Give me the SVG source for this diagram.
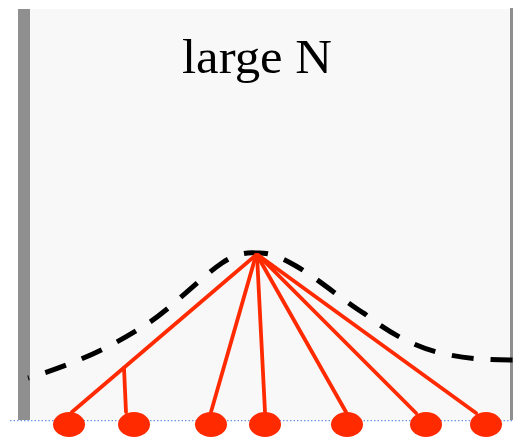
<svg xmlns="http://www.w3.org/2000/svg" width="513" height="438" viewBox="0 0 513 438">
<style>
.edge{stroke:#ff2a00;stroke-width:3.8;fill:none;stroke-linecap:round}
.node{fill:#ff2a00}
.bar{fill:#8f8f8f}
.curve{fill:none;stroke:#000;stroke-width:5;stroke-dasharray:22 17;stroke-dashoffset:10}
</style>
<rect x="0" y="0" width="513" height="438" fill="#ffffff"/>
<rect x="18" y="9" width="495" height="411" fill="#f8f8f8"/>
<rect class="bar" x="18" y="9" width="12" height="411"/>
<rect class="bar" x="510" y="8" width="3" height="412"/>
<text x="257" y="73" font-family="Liberation Serif, serif" font-size="48" text-anchor="middle" textLength="150" lengthAdjust="spacingAndGlyphs" fill="#000">large N</text>
<path class="curve" d="M256,253 C243,252 232,256 222,263 C200,278 175,305 150,322 C120,342 82,362 28,378"/>
<path class="curve" d="M256,253 C270,252 282,258 296,266 C320,280 345,302 365,314 C390,334 420,350 450,355 C470,359 490,360 513,360"/>
<line x1="10" y1="420.7" x2="513" y2="420.7" stroke="#6b95e8" stroke-width="1.3" stroke-dasharray="1.5 2"/>
<g id="connectors">
<line class="edge" x1="256" y1="255" x2="72" y2="412"/>
<line class="edge" x1="124" y1="368" x2="126" y2="412"/>
<line class="edge" x1="256" y1="255" x2="211" y2="412"/>
<line class="edge" x1="257" y1="255" x2="265" y2="412"/>
<line class="edge" x1="257" y1="255" x2="346" y2="412"/>
<line class="edge" x1="258" y1="255" x2="416" y2="413"/>
<line class="edge" x1="258" y1="255" x2="476" y2="413"/>
</g>
<g id="n1"><ellipse class="node" cx="69" cy="424.5" rx="16" ry="12.5"/></g>
<g id="n2"><ellipse class="node" cx="134" cy="424.5" rx="16" ry="12.5"/></g>
<g id="n3"><ellipse class="node" cx="211" cy="424.5" rx="16" ry="12.5"/></g>
<g id="n4"><ellipse class="node" cx="265" cy="424.5" rx="16" ry="12.5"/></g>
<g id="n5"><ellipse class="node" cx="347" cy="424.5" rx="16" ry="12.5"/></g>
<g id="n6"><ellipse class="node" cx="426" cy="424.5" rx="16" ry="12.5"/></g>
<g id="n7"><ellipse class="node" cx="486" cy="424.5" rx="16" ry="12.5"/></g>
</svg>
